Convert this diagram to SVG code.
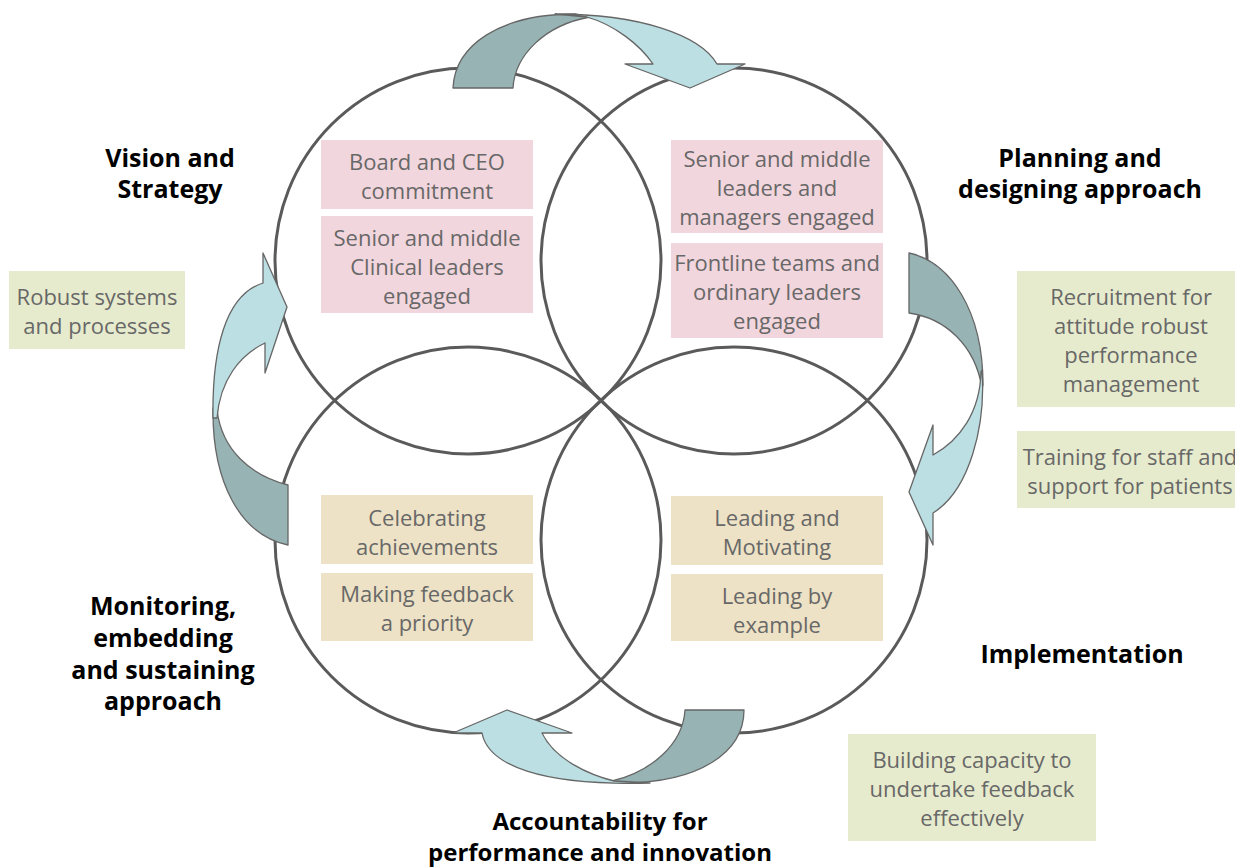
<svg xmlns="http://www.w3.org/2000/svg" width="1235" height="867" viewBox="0 0 1235 867">
<style>
.ring{fill:none;stroke:#5a5a5a;stroke-width:3}
.pink{fill:#f2d6dd}
.tan{fill:#ede2c5}
.green{fill:#e7ebcd}
.t{font-family:"Open Sans","Noto Sans",sans-serif;font-size:22px;fill:#686868;text-anchor:middle}
.b{font-family:"Open Sans","Noto Sans",sans-serif;font-size:25px;font-weight:bold;fill:#000;text-anchor:middle}
.dark{fill:#97b3b4;stroke:#666;stroke-width:1.3;stroke-linejoin:round}
.light{fill:#bcdfe3;stroke:#666;stroke-width:1.3;stroke-linejoin:round}
</style>
<rect width="1235" height="867" fill="#fff"/>
<g id="circles">
<circle class="ring" cx="468" cy="261" r="193"/>
<circle class="ring" cx="734" cy="261" r="193"/>
<circle class="ring" cx="468" cy="540" r="193"/>
<circle class="ring" cx="734" cy="540" r="193"/>
</g>
<g id="box-board"><rect class="pink" x="321" y="140" width="212" height="69"/><text class="t" x="427" y="170">Board and CEO</text><text class="t" x="427" y="199">commitment</text></g>
<g id="box-clinical"><rect class="pink" x="321" y="216" width="212" height="97"/><text class="t" x="427" y="246">Senior and middle</text><text class="t" x="427" y="275">Clinical leaders</text><text class="t" x="427" y="304">engaged</text></g>
<g id="box-managers"><rect class="pink" x="671" y="140" width="212" height="93"/><text class="t" x="777" y="167">Senior and middle</text><text class="t" x="777" y="196">leaders and</text><text class="t" x="777" y="225">managers engaged</text></g>
<g id="box-frontline"><rect class="pink" x="671" y="243" width="212" height="95"/><text class="t" x="777" y="271">Frontline teams and</text><text class="t" x="777" y="300">ordinary leaders</text><text class="t" x="777" y="329">engaged</text></g>
<g id="box-celebrating"><rect class="tan" x="321" y="495" width="212" height="69"/><text class="t" x="427" y="526">Celebrating</text><text class="t" x="427" y="555">achievements</text></g>
<g id="box-feedback"><rect class="tan" x="321" y="573" width="212" height="68"/><text class="t" x="427" y="602">Making feedback</text><text class="t" x="427" y="631">a priority</text></g>
<g id="box-motivating"><rect class="tan" x="671" y="496" width="212" height="69"/><text class="t" x="777" y="526">Leading and</text><text class="t" x="777" y="555">Motivating</text></g>
<g id="box-example"><rect class="tan" x="671" y="574" width="212" height="67"/><text class="t" x="777" y="604">Leading by</text><text class="t" x="777" y="633">example</text></g>
<g id="box-robust"><rect class="green" x="9" y="271" width="176" height="78"/><text class="t" x="97" y="305">Robust systems</text><text class="t" x="97" y="334">and processes</text></g>
<g id="box-recruitment"><rect class="green" x="1017" y="271" width="218" height="136"/><text class="t" x="1131" y="305">Recruitment for</text><text class="t" x="1131" y="334">attitude robust</text><text class="t" x="1131" y="363">performance</text><text class="t" x="1131" y="392">management</text></g>
<g id="box-training"><rect class="green" x="1017" y="431" width="218" height="77"/><text class="t" x="1130" y="465">Training for staff and</text><text class="t" x="1130" y="494">support for patients</text></g>
<g id="box-capacity"><rect class="green" x="848" y="734" width="248" height="107"/><text class="t" x="972" y="768">Building capacity to</text><text class="t" x="972" y="797">undertake feedback</text><text class="t" x="972" y="826">effectively</text></g>
<g id="connectors">
<path class="dark" d="M453,88 C455,45 500,14 575,14 L590,17 C545,25 515,55 513,88 Z"/>
<path class="light" d="M555,14 C640,14 700,35 717,64 L745,64 L690,88 L625,64 L653,64 C640,45 615,25 587,17 Z"/>
<path class="dark" d="M909,253 C950,262 983,310 983,385 L982,388 C975,345 945,318 909,313 Z"/>
<path class="light" d="M982,370 C986,425 970,490 933,513 L933,545 L909,492 L933,425 L933,455 C960,440 980,412 981,372 Z"/>
<path class="dark" d="M744,710 C744,752 700,783 622,783 L612,781 C650,772 683,745 685,710 Z"/>
<path class="light" d="M650,783 C540,786 488,765 482,733 L453,733 L507,710 L572,733 L542,733 C555,760 590,775 614,781 Z"/>
<path class="dark" d="M213,408 C212,482 240,535 288,545 L288,485 C250,475 222,450 217,410 Z"/>
<path class="light" d="M213,418 C212,350 225,295 263,283 L263,253 L287,307 L265,373 L265,343 C240,355 220,380 217,418 Z"/>
</g>
<g id="label-vision"><text class="b" x="170" y="167">Vision and</text><text class="b" x="170" y="198">Strategy</text></g>
<g id="label-planning"><text class="b" x="1080" y="167">Planning and</text><text class="b" x="1080" y="198">designing approach</text></g>
<g id="label-monitoring"><text class="b" x="163" y="615">Monitoring,</text><text class="b" x="163" y="647">embedding</text><text class="b" x="163" y="679">and sustaining</text><text class="b" x="163" y="710">approach</text></g>
<g id="label-implementation"><text class="b" x="1082" y="663">Implementation</text></g>
<g id="label-accountability"><text class="b" x="600" y="830" style="font-size:24px">Accountability for</text><text class="b" x="600" y="861" style="font-size:24px">performance and innovation</text></g>
</svg>
